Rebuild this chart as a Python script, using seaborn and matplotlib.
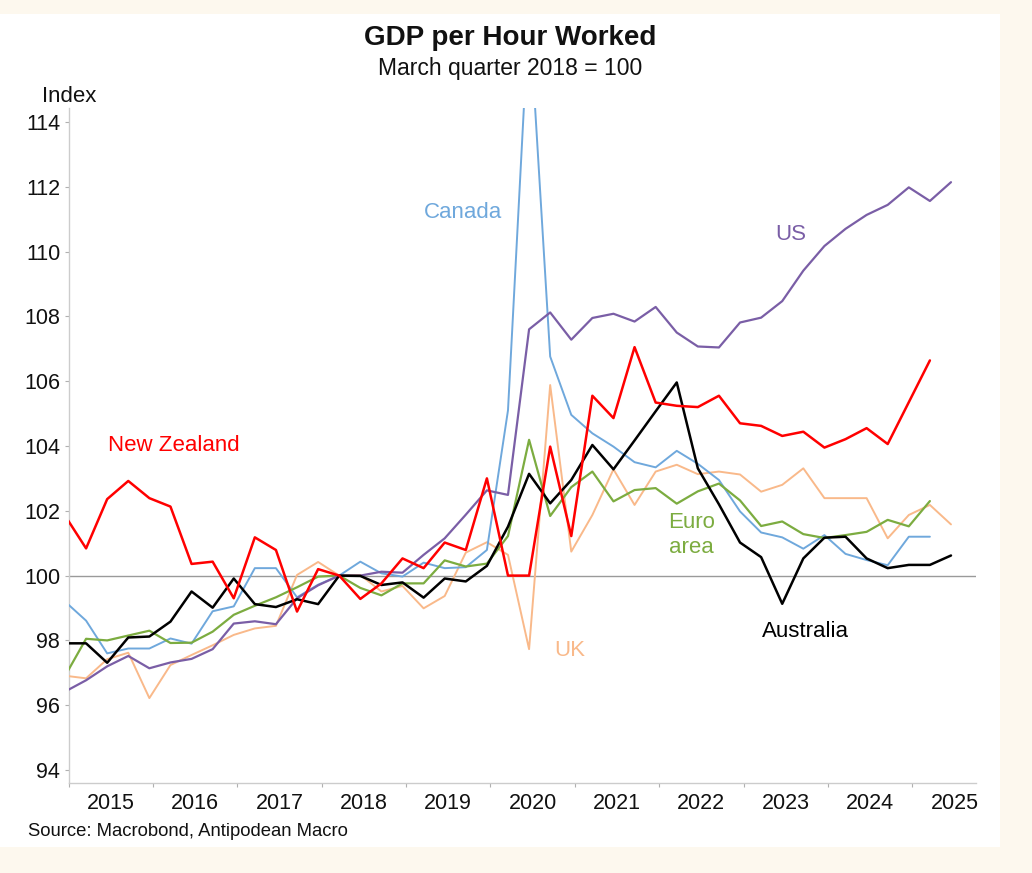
import numpy as np
import pandas as pd
import seaborn as sns
import matplotlib.pyplot as plt
from matplotlib.patches import Rectangle
from matplotlib.ticker import FixedLocator, NullFormatter

# --- data: quarterly index, March quarter 2018 = 100 (2014Q4 .. 2025Q2) ---
quarters = pd.period_range('2014Q4', '2025Q2', freq='Q')

australia = [97.91, 97.91, 97.31, 98.09, 98.12, 98.58, 99.51, 99.01, 99.91, 99.12,
             99.03, 99.27, 99.12, 100.0, 99.99, 99.71, 99.79, 99.32, 99.91, 99.82,
             100.3, 101.51, 103.14, 102.23, 102.95, 104.03, 103.28, 104.17, 105.07, 105.96,
             103.31, 102.2, 101.02, 100.57, 99.13, 100.53, 101.17, 101.2, 100.53, 100.23,
             100.33, 100.33, 100.62]
new_zealand = [101.85, 100.84, 102.36, 102.92, 102.39, 102.13, 100.36, 100.43, 99.30, 101.18,
               100.79, 98.89, 100.2, 100.0, 99.28, 99.76, 100.53, 100.23, 101.02, 100.79,
               103.0, 100.0, 100.0, 103.98, 101.22, 105.55, 104.86, 107.05, 105.34, 105.24,
               105.2, 105.55, 104.70, 104.62, 104.31, 104.44, 103.95, 104.21, 104.55, 104.06,
               105.35, 106.64, np.nan]
us = [96.42, 96.77, 97.2, 97.52, 97.14, 97.32, 97.43, 97.73, 98.52, 98.59,
      98.5, 99.3, 99.7, 100.0, 100.0, 100.12, 100.09, 100.64, 101.15, 101.88,
      102.63, 102.49, 107.6, 108.12, 107.28, 107.95, 108.08, 107.84, 108.29, 107.5,
      107.07, 107.04, 107.81, 107.96, 108.47, 109.41, 110.17, 110.7, 111.13, 111.44,
      111.98, 111.56, 112.14]
canada = [99.2, 98.61, 97.6, 97.75, 97.75, 98.06, 97.9, 98.9, 99.05, 100.23,
          100.23, 99.33, 99.72, 100.0, 100.43, 100.07, 99.97, 100.4, 100.23, 100.26,
          100.79, 105.1, 117.5, 106.76, 104.96, 104.39, 103.98, 103.5, 103.34, 103.85,
          103.45, 102.95, 101.98, 101.33, 101.18, 100.83, 101.25, 100.67, 100.48, 100.32,
          101.2, 101.2, np.nan]
euro_area = [96.9, 98.05, 98.0, 98.15, 98.3, 97.92, 97.93, 98.27, 98.79, 99.07,
             99.33, 99.64, 99.97, 100.0, 99.62, 99.39, 99.76, 99.76, 100.47, 100.28,
             100.37, 101.22, 104.19, 101.84, 102.73, 103.21, 102.29, 102.64, 102.70, 102.22,
             102.6, 102.84, 102.32, 101.53, 101.67, 101.28, 101.16, 101.25, 101.35, 101.72,
             101.52, 102.30, np.nan]
uk = [96.91, 96.83, 97.42, 97.62, 96.22, 97.24, 97.55, 97.85, 98.17, 98.37,
      98.45, 100.02, 100.42, 100.0, 100.02, 99.51, 99.68, 98.99, 99.37, 100.71,
      101.03, 100.64, 97.73, 105.88, 100.74, 101.87, 103.28, 102.18, 103.21, 103.42,
      103.13, 103.21, 103.12, 102.59, 102.8, 103.31, 102.39, 102.39, 102.39, 101.15,
      101.87, 102.18, 101.58]

years = list(range(2015, 2026))
y_ticks = list(range(94, 115, 2))

# --- style ---
series = [
    # name, values, colour, width, label text, label position
    ('UK', uk, '#f9b98a', 1.4, 'UK', (2020.94, 97.70)),
    ('Canada', canada, '#6fa8dc', 1.4, 'Canada', (2019.67, 111.19)),
    ('Euro area', euro_area, '#7cac40', 1.6, 'Euro\narea', (2022.38, 101.25)),
    ('US', us, '#7a5ea6', 1.6, 'US', (2023.56, 110.54)),
    ('Australia', australia, '#000000', 1.8, 'Australia', (2023.73, 98.29)),
    ('New Zealand', new_zealand, '#ff0000', 1.8, 'New Zealand', (2016.25, 104.0)),
]

sns.set_theme(style='white')
plt.rcParams['font.family'] = ['Liberation Sans', 'DejaVu Sans']

fig = plt.figure(figsize=(10.32, 8.73), dpi=100)
fig.patch.set_facecolor('#fdf8ee')
fig.patches.append(Rectangle((0, 1 - 847 / 873), 1000 / 1032, (847 - 14) / 873,
                             transform=fig.transFigure, facecolor='white',
                             edgecolor='none', zorder=-10))

ax = fig.add_axes([68.5 / 1032, 1 - 783 / 873, (975.6 - 68.5) / 1032, (783 - 108.3) / 873])
ax.set_zorder(1)
ax.set_facecolor('white')

# quarter -> fractional year, plotted mid last month of quarter
x = np.array([p.year + (3 * p.quarter - 0.5) / 12 for p in quarters])

ax.axhline(100, color='#9a9a9a', lw=1.0, zorder=1)

for name, vals, col, lw, lab, pos in series:
    sns.lineplot(x=x, y=np.array(vals, dtype=float), ax=ax, color=col, lw=lw,
                 zorder=3, legend=False)
    ax.text(pos[0], pos[1], lab, color=col, fontsize=16, ha='center', va='center',
            linespacing=1.25)

ax.set_xlim(2015, 2025.75)
ax.set_ylim(93.6, 114.42)

ax.xaxis.set_major_locator(FixedLocator(years + [2026]))
ax.xaxis.set_major_formatter(NullFormatter())
ax.xaxis.set_minor_locator(FixedLocator([yr + 0.5 for yr in years]))
ax.set_xticklabels([str(yr) for yr in years], minor=True)
ax.tick_params(axis='x', which='major', direction='out', length=3, width=0.8,
               color='#b0b0b0', bottom=True)
ax.tick_params(axis='x', which='minor', length=0, pad=7, labelsize=15.5,
               labelcolor='#111111', bottom=True)

ax.set_yticks(y_ticks)
ax.set_yticklabels([str(v) for v in y_ticks])
ax.tick_params(axis='y', direction='out', length=3, width=0.8, color='#b0b0b0',
               pad=3, labelsize=15.5, labelcolor='#111111', left=True)

for side in ['top', 'right']:
    ax.spines[side].set_visible(False)
for side in ['left', 'bottom']:
    ax.spines[side].set_color('#cccccc')
    ax.spines[side].set_linewidth(1.0)
ax.set_xlabel('')
ax.set_ylabel('')
ax.grid(False)

fig.text(510 / 1032, 1 - 38 / 873, 'GDP per Hour Worked', fontsize=20, fontweight='bold',
         ha='center', va='center', color='#111111')
fig.text(510 / 1032, 1 - 69 / 873, 'March quarter 2018 = 100', fontsize=16.5,
         ha='center', va='center', color='#111111')
fig.text(42 / 1032, 1 - 96 / 873, 'Index', fontsize=16, ha='left', va='center',
         color='#111111')
fig.text(28 / 1032, 1 - 832 / 873, 'Source: Macrobond, Antipodean Macro', fontsize=13.3,
         ha='left', va='center', color='#111111')

fig.savefig('out.png', dpi=100, facecolor=fig.get_facecolor())
